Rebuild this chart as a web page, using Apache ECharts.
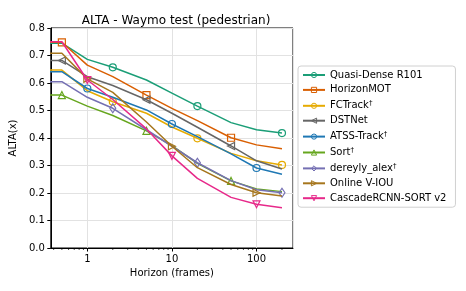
<!DOCTYPE html>
<html>
<head>
<meta charset="utf-8">
<script src="https://cdn.jsdelivr.net/npm/echarts@6/dist/echarts.min.js"></script>
<style>html,body{margin:0;padding:0;background:#fff}#c{width:466px;height:291px}</style>
</head>
<body>
<div id="c"></div>
<script>
// Horizon values (frames); 0 is clipped on the log axis like matplotlib does
const horizons = [0, 0.5, 1, 2, 5, 10, 20, 50, 100, 200];
const seriesNames = ['Quasi-Dense R101', 'HorizonMOT', 'FCTrack†', 'DSTNet', 'ATSS-Track†', 'Sort†', 'dereyly_alex†', 'Online V-IOU', 'CascadeRCNN-SORT v2'];
const quasiDense = [0.745, 0.745, 0.686, 0.657, 0.611, 0.563, 0.516, 0.456, 0.430, 0.418];
const horizonMOT = [0.748, 0.748, 0.665, 0.623, 0.556, 0.508, 0.463, 0.401, 0.375, 0.361];
const fcTrack = [0.647, 0.647, 0.572, 0.532, 0.490, 0.440, 0.399, 0.344, 0.317, 0.302];
const dstNet = [0.682, 0.682, 0.623, 0.591, 0.539, 0.490, 0.439, 0.371, 0.317, 0.287];
const atssTrack = [0.641, 0.641, 0.580, 0.548, 0.502, 0.451, 0.405, 0.342, 0.291, 0.268];
const sortT = [0.556, 0.556, 0.516, 0.482, 0.426, 0.372, 0.308, 0.244, 0.215, 0.205];
const dereyly = [0.605, 0.605, 0.548, 0.508, 0.430, 0.370, 0.310, 0.245, 0.212, 0.201];
const onlineVIOU = [0.708, 0.708, 0.615, 0.566, 0.458, 0.370, 0.292, 0.231, 0.201, 0.189];
const cascade = [0.750, 0.750, 0.611, 0.540, 0.433, 0.335, 0.253, 0.184, 0.159, 0.146];
const minorTickValues = [0.4, 0.5, 0.6, 0.7, 0.8, 0.9, 2, 3, 4, 5, 6, 7, 8, 9, 20, 30, 40, 50, 60, 70, 80, 90, 200];

const allValues = [quasiDense, horizonMOT, fcTrack, dstNet, atssTrack, sortT, dereyly, onlineVIOU, cascade];
const colors = ['#1b9e77', '#d95f02', '#e6ab02', '#666666', '#1f78b4', '#66a61e', '#7570b3', '#a6761d', '#e7298a'];
const symbols = [
  'circle',
  'rect',
  'circle',
  'path://M0,5L10,0L10,10Z',
  'circle',
  'path://M5,0L10,10L0,10Z',
  'path://M3,0L6,5L3,10L0,5Z',
  'path://M0,0L10,5L0,10Z',
  'path://M0,0L10,0L5,10Z'
];
const symbolSizes = [7, 7, 7, 7, 7, 7, [6, 9], 7, 7];
const markOffsets = [0, 1, 0, 1, 2, 1, 0, 2, 2];

const plotX = h => (h > 0 ? h : 1e-3);

const chart = echarts.init(document.getElementById('c'), null, {renderer: 'canvas'});
const font = 'DejaVu Sans';

const series = allValues.map((vals, i) => ({
  name: seriesNames[i],
  type: 'line',
  clip: true,
  symbol: symbols[i],
  symbolSize: symbolSizes[i],
  showSymbol: true,
  z: 2 + i,
  lineStyle: {color: colors[i], width: 1.5},
  itemStyle: {color: 'rgba(255,255,255,0)', borderColor: colors[i], borderWidth: 1.2},
  emphasis: {disabled: true},
  data: vals.map((v, j) => {
    const item = {value: [plotX(horizons[j]), v]};
    if (j % 3 !== markOffsets[i]) item.symbol = 'none';
    return item;
  })
}));

series.push({
  type: 'custom',
  name: 'minorTicks',
  silent: true,
  clip: false,
  z: 20,
  data: minorTickValues.map(v => [v, 0]),
  renderItem: (params, api) => {
    const p = api.coord([api.value(0), 0]);
    return {
      type: 'line',
      shape: {x1: p[0], y1: p[1], x2: p[0], y2: p[1] + 2},
      style: {stroke: '#000', lineWidth: 0.7}
    };
  }
});

chart.setOption({
  animation: false,
  backgroundColor: '#fff',
  textStyle: {fontFamily: font},
  title: {
    text: 'ALTA - Waymo test (pedestrian)',
    left: 171,
    textAlign: 'center',
    top: 10,
    textStyle: {fontFamily: font, fontSize: 12, fontWeight: 'normal', color: '#000'}
  },
  grid: {left: 49, right: 173, top: 28, bottom: 43, show: true, borderColor: '#000', borderWidth: 1, backgroundColor: 'transparent'},
  legend: {
    data: seriesNames,
    orient: 'vertical',
    left: 298,
    top: 66,
    itemWidth: 22,
    itemHeight: 6.5,
    itemGap: 4.9,
    padding: [4, 9, 4, 4],
    backgroundColor: '#fff',
    borderColor: '#d0d0d0',
    borderWidth: 1,
    borderRadius: 3,
    itemStyle: {borderWidth: 1},
    formatter: name => name.endsWith('†') ? name.slice(0, -1) + '{sup|†}' : name,
    textStyle: {
      fontFamily: font, fontSize: 10, color: '#000',
      rich: {sup: {fontFamily: font, fontSize: 7, color: '#000', verticalAlign: 'top', padding: [0, 0, 5, 0]}}
    }
  },
  xAxis: {
    type: 'log',
    min: 0.37,
    max: 270,
    name: 'Horizon (frames)',
    nameLocation: 'middle',
    nameGap: 20,
    nameTextStyle: {fontFamily: font, fontSize: 10, color: '#000'},
    axisLine: {lineStyle: {color: '#000', width: 1}},
    axisTick: {length: 3.5, lineStyle: {color: '#000'}},
    axisLabel: {fontFamily: font, fontSize: 10, color: '#000', margin: 6, showMinLabel: false, showMaxLabel: false},
    splitLine: {show: true, lineStyle: {color: '#e2e2e2', width: 1}}
  },
  yAxis: {
    type: 'value',
    min: 0,
    max: 0.8,
    interval: 0.1,
    name: 'ALTA(x)',
    nameLocation: 'middle',
    nameGap: 28.5,
    nameTextStyle: {fontFamily: font, fontSize: 10, color: '#000'},
    axisLine: {show: true, lineStyle: {color: '#000', width: 1}},
    axisTick: {show: true, length: 3.5, lineStyle: {color: '#000'}},
    axisLabel: {fontFamily: font, fontSize: 10, color: '#000', margin: 6, formatter: v => v.toFixed(1)},
    splitLine: {show: true, lineStyle: {color: '#e2e2e2', width: 1}}
  },
  series: series
});
</script>
</body>
</html>
